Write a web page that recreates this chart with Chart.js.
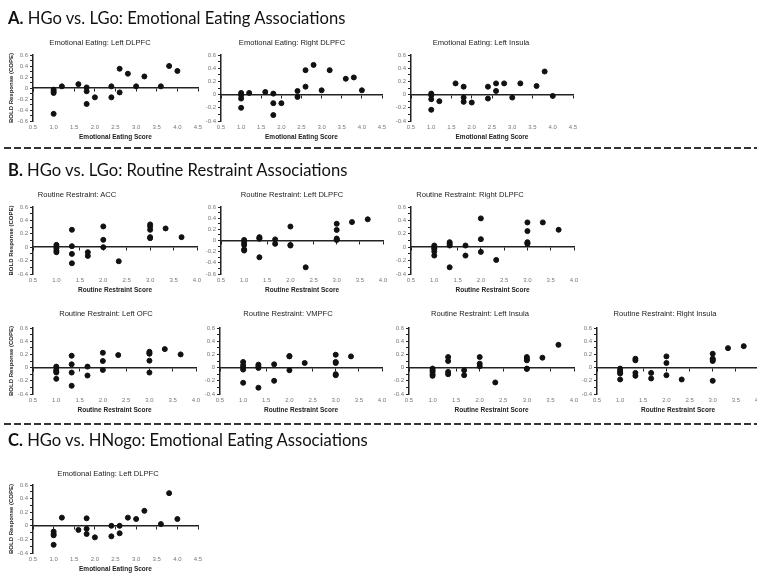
<!DOCTYPE html>
<html>
<head>
<meta charset="utf-8">
<script src="https://cdn.jsdelivr.net/npm/chart.js@4.4.1/dist/chart.umd.min.js"></script>
<style>
html,body{margin:0;padding:0;background:#fff;overflow:hidden;}
body{width:757px;height:574px;position:relative;font-family:"Liberation Sans",Arial,sans-serif;}
.sec{position:absolute;left:8px;font-family:Lato,"Open Sans",sans-serif;font-size:16.6px;color:#111;white-space:nowrap;line-height:20px;will-change:transform;}
.ptitle{position:absolute;font-size:7.6px;color:#222;white-space:nowrap;transform:translate(-50%,-50%);will-change:transform;}
.dash{position:absolute;left:4px;width:753px;height:1.5px;background:repeating-linear-gradient(90deg,#333 0 7px,transparent 7px 10px);}
canvas{position:absolute;}
</style>
</head>
<body>
<div class="sec" style="top:8px"><b>A.</b> HGo vs. LGo: Emotional Eating Associations</div>
<div class="dash" style="top:147px"></div>
<div class="sec" style="top:160px"><b>B.</b> HGo vs. LGo: Routine Restraint Associations</div>
<div class="dash" style="top:423px"></div>
<div class="sec" style="top:430px"><b>C.</b> HGo vs. HNogo: Emotional Eating Associations</div>
<script>
// emotional eating scores (x) shared by the A panels and panel C
const eeScore = [1.0,1.0,1.0,1.0, 1.2, 1.6, 1.8,1.8,1.8, 2.0, 2.4,2.4, 2.6,2.6, 2.8, 3.0, 3.2, 3.6, 3.8, 4.0];
const eeLeftDlpfc  = [-0.03,-0.06,-0.09,-0.47, 0.03, 0.07, 0.01,-0.06,-0.29, -0.17, 0.03,-0.17, 0.35,-0.08, 0.26, 0.03, 0.21, 0.03, 0.40, 0.31];
const eeRightDlpfc = [0.025,-0.01,-0.06,-0.20, 0.025, 0.04, 0.015,-0.13,-0.31, -0.13, 0.055,-0.035, 0.37,0.12, 0.45, 0.065, 0.37, 0.24, 0.26, 0.065];
const eeLeftInsula = [0.015,-0.01,-0.07,-0.23, -0.10, 0.17, 0.12,-0.045,-0.11, -0.12, 0.12,-0.06, 0.17,0.055, 0.17, -0.045, 0.17, 0.13, 0.35, -0.02];
const nogoLeftDlpfc = [-0.085,-0.12,-0.14,-0.28, 0.12, -0.06, 0.11,-0.045,-0.12, -0.17, 0.0,-0.155, 0.0,-0.11, 0.12, 0.10, 0.22, 0.025, 0.48, 0.10];

// routine restraint scores (x) shared by the B panels
const rrScore = [1,1,1,1,1, 1.33,1.33,1.33,1.33, 1.67,1.67, 2,2,2, 2.33, 3,3,3,3,3, 3.33, 3.67];
const rrAcc         = [0.035,0.01,-0.015,-0.05,-0.075, 0.26,0.015,-0.10,-0.24, -0.075,-0.13, 0.31,0.11,0.0, -0.21, 0.34,0.31,0.26,0.15,0.135, 0.28, 0.15];
const rrLeftDlpfc   = [0.01,-0.04,-0.08,-0.16,-0.18, 0.06,0.045,0.03,-0.30, 0.02,-0.06, 0.25,-0.08,-0.09, -0.48, 0.30,0.19,0.035,0.02,0.01, 0.33, 0.38];
const rrRightDlpfc  = [0.025,-0.01,-0.025,-0.065,-0.125, 0.075,0.05,0.025,-0.30, 0.025,-0.125, 0.43,0.12,-0.07, -0.19, 0.37,0.24,0.075,0.05,0.06, 0.37, 0.26];
const rrLeftOfc     = [0.015,-0.035,-0.055,-0.075,-0.17, 0.18,0.05,-0.075,-0.275, 0.015,-0.12, 0.225,0.10,-0.035, 0.19, 0.24,0.22,0.21,0.105,-0.075, 0.28, 0.20];
const rrVmpfc       = [0.085,0.035,0.0,-0.03,-0.23, 0.045,0.02,-0.005,-0.305, 0.05,-0.20, 0.175,0.17,-0.04, 0.07, 0.195,0.085,0.07,-0.10,-0.115, 0.17, null];
const rrLeftInsula  = [-0.015,-0.04,-0.065,-0.10,-0.125, 0.16,0.10,-0.065,-0.10, -0.04,-0.115, 0.16,0.06,0.02, -0.225, 0.16,0.13,0.11,-0.015,-0.02, 0.15, 0.345];
const rrRightInsula = [-0.015,-0.05,-0.07,-0.09,-0.18, 0.135,0.11,-0.08,-0.125, -0.08,-0.165, 0.17,0.07,-0.115, -0.18, 0.21,0.135,0.10,0.12,-0.20, 0.295, 0.325];

const EE = 'Emotional Eating Score', RR = 'Routine Restraint Score';

// x0/x1: pixel span of the x axis, top/bottom: pixel span of the y axis
const panels = [
  {title:'Emotional Eating: Left DLPFC',  tx:100, ty:42,  x0:33,  x1:198, top:55,  bottom:121, xMax:4.5, yMin:-0.6, yMax:0.6, xTitle:EE, yTitle:true,  xs:eeScore, ys:eeLeftDlpfc},
  {title:'Emotional Eating: Right DLPFC', tx:292, ty:42,  x0:221, x1:382, top:55,  bottom:121, xMax:4.5, yMin:-0.4, yMax:0.6, xTitle:EE, yTitle:false, xs:eeScore, ys:eeRightDlpfc},
  {title:'Emotional Eating: Left Insula', tx:481, ty:42,  x0:411, x1:573, top:55,  bottom:121, xMax:4.5, yMin:-0.4, yMax:0.6, xTitle:EE, yTitle:false, xs:eeScore, ys:eeLeftInsula},
  {title:'Routine Restraint: ACC',        tx:77,  ty:194, x0:33,  x1:197, top:207, bottom:274, xMax:4.0, yMin:-0.4, yMax:0.6, xTitle:RR, yTitle:true,  xs:rrScore, ys:rrAcc},
  {title:'Routine Restraint: Left DLPFC', tx:292, ty:194, x0:221, x1:383, top:207, bottom:274, xMax:4.0, yMin:-0.6, yMax:0.6, xTitle:RR, yTitle:false, xs:rrScore, ys:rrLeftDlpfc},
  {title:'Routine Restraint: Right DLPFC',tx:470, ty:194, x0:411, x1:574, top:207, bottom:274, xMax:4.0, yMin:-0.4, yMax:0.6, xTitle:RR, yTitle:false, xs:rrScore, ys:rrRightDlpfc},
  {title:'Routine Restraint: Left OFC',   tx:106, ty:313, x0:33,  x1:196, top:328, bottom:394, xMax:4.0, yMin:-0.4, yMax:0.6, xTitle:RR, yTitle:true,  xs:rrScore, ys:rrLeftOfc},
  {title:'Routine Restraint: VMPFC',      tx:288, ty:313, x0:220, x1:382, top:328, bottom:394, xMax:4.0, yMin:-0.4, yMax:0.6, xTitle:RR, yTitle:false, xs:rrScore, ys:rrVmpfc},
  {title:'Routine Restraint: Left Insula',tx:480, ty:313, x0:409, x1:574, top:328, bottom:394, xMax:4.0, yMin:-0.4, yMax:0.6, xTitle:RR, yTitle:false, xs:rrScore, ys:rrLeftInsula},
  {title:'Routine Restraint: Right Insula',tx:665,ty:313, x0:597, x1:759, top:328, bottom:394, xMax:4.0, yMin:-0.4, yMax:0.6, xTitle:RR, yTitle:false, xs:rrScore, ys:rrRightInsula},
  {title:'Emotional Eating: Left DLPFC',  tx:108, ty:473, x0:33,  x1:198, top:485, bottom:553, xMax:4.5, yMin:-0.4, yMax:0.6, xTitle:EE, yTitle:true,  xs:eeScore, ys:nogoLeftDlpfc}
];

function yLabel(v){
  const r = Math.round(v*10);
  if (r % 2 !== 0) return '';
  return r === 0 ? '0' : (r/10).toFixed(1);
}

function makePanel(p){
  const Wy = p.yTitle ? 33 : 22, pt = 8, pr = 10, Hx = 20;
  const w = p.x1 - p.x0 + Wy + pr, h = p.bottom - p.top + pt + Hx;
  const c = document.createElement('canvas');
  c.width = w; c.height = h;
  c.style.left = (p.x0 - Wy) + 'px'; c.style.top = (p.top - pt) + 'px';
  c.style.width = w + 'px'; c.style.height = h + 'px';
  document.body.appendChild(c);

  const t = document.createElement('div');
  t.className = 'ptitle';
  t.style.left = p.tx + 'px'; t.style.top = p.ty + 'px';
  t.textContent = p.title;
  document.body.appendChild(t);

  const pts = p.xs.map((x,i) => ({x, y:p.ys[i]})).filter(d => d.y !== null);
  new Chart(c, {
    type:'scatter',
    data:{datasets:[{data:pts, backgroundColor:'#111', borderColor:'#111', pointRadius:2.5, pointHoverRadius:2.5}]},
    options:{
      responsive:false, animation:false, events:[],
      layout:{padding:{top:pt, right:pr, left:0, bottom:0}},
      plugins:{legend:{display:false}, tooltip:{enabled:false}},
      scales:{
        x:{type:'linear', position:'bottom', min:0.5, max:p.xMax,
           grid:{display:false, drawTicks:false}, border:{display:false},
           ticks:{stepSize:0.5, padding:3, color:'#777', font:{size:6}, maxRotation:0, autoSkip:false, callback:v => v.toFixed(1)},
           title:{display:true, text:p.xTitle, color:'#222', font:{size:6.5, weight:'bold'}, padding:0},
           afterFit:s => { s.height = Hx; }},
        zero:{type:'linear', axis:'x', position:{y:0}, min:0.5, max:p.xMax,
           ticks:{display:false, stepSize:0.5},
           grid:{drawOnChartArea:false, drawTicks:true, tickLength:3, color:'#222'},
           border:{display:true, color:'#222', width:1.5}},
        y:{type:'linear', position:'left', min:p.yMin, max:p.yMax,
           grid:{drawOnChartArea:false, drawTicks:true, tickLength:3, color:'#222'},
           border:{display:true, color:'#222', width:1.5},
           ticks:{stepSize:0.1, maxTicksLimit:30, autoSkip:false, padding:2, color:'#777', font:{size:6}, callback:yLabel},
           title:{display:p.yTitle, text:'BOLD Response (COPE)', color:'#222', font:{size:6, weight:'bold'}, padding:{top:8, bottom:0}},
           afterFit:s => { s.width = Wy; }}
      }
    }
  });
}

panels.forEach(makePanel);
</script>
</body>
</html>
